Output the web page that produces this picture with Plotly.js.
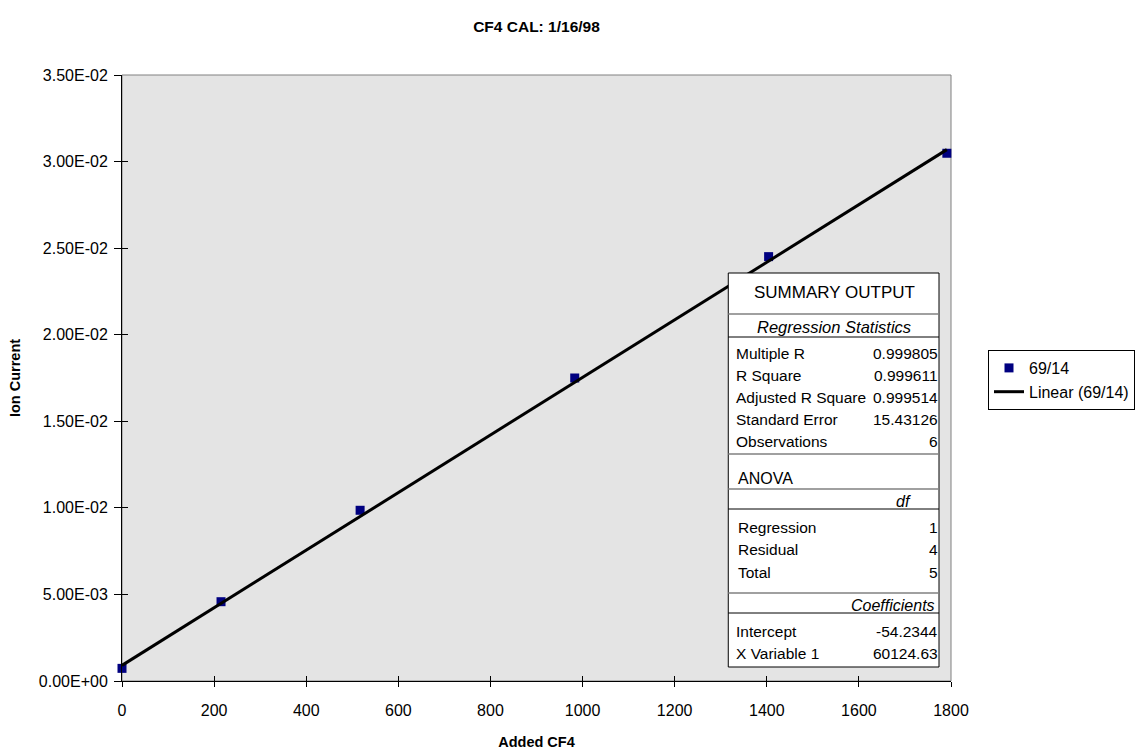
<!DOCTYPE html>
<html>
<head>
<meta charset="utf-8">
<script src="https://cdn.plot.ly/plotly-3.0.1.min.js"></script>
<style>
  html, body { margin: 0; padding: 0; background: #ffffff; }
  #chart { width: 1146px; height: 752px; }
</style>
</head>
<body>
<div id="chart"></div>
<script>
// CF4 calibration: ion current (69/14) vs. added CF4
const addedCF4 = [0, 215, 517, 983, 1404, 1791];
const ionCurrent = [0.00073, 0.00458, 0.00986, 0.01750, 0.02451, 0.03048];

const yTickVals = [0, 0.005, 0.010, 0.015, 0.020, 0.025, 0.030, 0.035];
const yTickText = ['0.00E+00', '5.00E-03', '1.00E-02', '1.50E-02', '2.00E-02', '2.50E-02', '3.00E-02', '3.50E-02'];
const xTickVals = [0, 200, 400, 600, 800, 1000, 1200, 1400, 1600, 1800];

// Regression summary (Added CF4 regressed on ion current)
const regStatLabels = ['Multiple R', 'R Square', 'Adjusted R Square', 'Standard Error', 'Observations'];
const regStatValues = ['0.999805', '0.999611', '0.999514', '15.43126', '6'];
const anovaLabels = ['Regression', 'Residual', 'Total'];
const anovaDf = ['1', '4', '5'];
const coefLabels = ['Intercept', 'X Variable 1'];
const coefValues = [-54.2344, 60124.63];

// Linear trend from the stated coefficients: x = b0 + b1*y  ->  y = (x - b0) / b1
const trendX = [0, Math.max(...addedCF4)];
const trendY = trendX.map(x => (x - coefValues[0]) / coefValues[1]);

// plot-area geometry in pixels
const M = { l: 122, r: 194, t: 75, b: 71 };
const W = 1146, H = 752;
const PW = W - M.l - M.r, PH = H - M.t - M.b;
const px = v => (v - M.l) / PW;
const py = v => (H - M.b - v) / PH;

const FONT = 'Liberation Sans, Arial, sans-serif';

const traces = [
  {
    x: addedCF4, y: ionCurrent, name: '69/14', type: 'scatter', mode: 'markers',
    marker: { symbol: 'square', size: 9, color: '#000080' },
    cliponaxis: false, legendgroup: 'a'
  },
  {
    x: trendX, y: trendY, name: 'Linear (69/14)', type: 'scatter', mode: 'lines',
    line: { color: '#000000', width: 3 }, legendgroup: 'b'
  },
  {
    // carrier for the inward half of the cross tick marks
    x: addedCF4, y: ionCurrent, xaxis: 'x2', yaxis: 'y2', mode: 'markers',
    marker: { opacity: 0 }, showlegend: false, hoverinfo: 'skip'
  }
];

// summary table drawn as shapes + annotations
const TBL = { x0: 729, x1: 940, y0: 273, y1: 667 };
const shapes = [
  { type: 'rect', xref: 'paper', yref: 'paper', x0: 0, x1: 1, y0: 0, y1: 1,
    line: { color: '#808080', width: 1 }, layer: 'below' },
  { type: 'rect', xref: 'paper', yref: 'paper', x0: px(TBL.x0), x1: px(TBL.x1),
    y0: py(TBL.y1), y1: py(TBL.y0), fillcolor: '#ffffff',
    line: { color: '#000000', width: 1 }, layer: 'above' }
];
const hline = (y, color) => shapes.push({
  type: 'line', xref: 'paper', yref: 'paper', x0: px(TBL.x0), x1: px(color === '#000000' ? TBL.x1 : 939),
  y0: py(y), y1: py(y), line: { color: color, width: color === '#000000' ? 1 : 1.5 }, layer: 'above'
});
[314, 454, 489, 593].forEach(y => hline(y, '#808080'));
[337, 509, 613].forEach(y => hline(y, '#000000'));

const annotations = [];
const txt = (text, x, y, anchor, opts = {}) => annotations.push(Object.assign({
  text: text, xref: 'paper', yref: 'paper', x: px(x), y: py(y), xanchor: anchor, yanchor: 'middle',
  showarrow: false, font: { family: FONT, size: 15.5, color: '#000000' }
}, opts));

txt('SUMMARY OUTPUT', 835, 292, 'center', { font: { family: FONT, size: 17, color: '#000000' } });
txt('<i>Regression Statistics</i>', 835, 327, 'center', { font: { family: FONT, size: 16.5, color: '#000000' } });
regStatLabels.forEach((t, i) => {
  const y = 353 + i * 22;
  txt(t, 735, y, 'left');
  txt(regStatValues[i], 941, y, 'right');
});
txt('ANOVA', 737, 478, 'left', { font: { family: FONT, size: 16, color: '#000000' } });
txt('<i>df</i>', 914, 501, 'right', { font: { family: FONT, size: 16, color: '#000000' } });
anovaLabels.forEach((t, i) => {
  const y = 527 + i * 22.5;
  txt(t, 737, y, 'left');
  txt(anovaDf[i], 941, y, 'right');
});
txt('<i>Coefficients</i>', 938, 605, 'right', { font: { family: FONT, size: 16, color: '#000000' } });
coefLabels.forEach((t, i) => {
  const y = 631 + i * 22;
  txt(t, 735, y, 'left');
  txt(String(coefValues[i]), 941, y, 'right');
});

const layout = {
  width: W, height: H,
  margin: M,
  paper_bgcolor: '#ffffff',
  plot_bgcolor: '#e4e4e4',
  font: { family: FONT, size: 15, color: '#000000' },
  title: { text: '<b>CF4 CAL: 1/16/98</b>', xref: 'paper', x: px(537), xanchor: 'center',
    yref: 'container', y: 1 - 27 / H, yanchor: 'middle',
    font: { family: FONT, size: 15.5, color: '#000000' } },
  showlegend: true,
  legend: {
    x: px(988), y: py(350), xanchor: 'left', yanchor: 'top',
    bgcolor: '#ffffff', bordercolor: '#000000', borderwidth: 1,
    font: { family: FONT, size: 16, color: '#000000' },
    tracegroupgap: 0, itemwidth: 30
  },
  xaxis: {
    range: [0, 1800], tickvals: xTickVals, ticks: 'outside', ticklen: 5, tickcolor: '#000000',
    showline: true, linecolor: '#000000', linewidth: 1, showgrid: false, zeroline: false,
    tickfont: { family: FONT, size: 16 }, ticklabelstandoff: 10,
    title: { text: '<b>Added CF4</b>', font: { family: FONT, size: 14.5 }, standoff: 18 }
  },
  yaxis: {
    range: [0, 0.035], tickvals: yTickVals, ticktext: yTickText, ticks: 'outside', ticklen: 7,
    tickcolor: '#000000', showline: true, linecolor: '#000000', linewidth: 1,
    showgrid: false, zeroline: false,
    tickfont: { family: FONT, size: 16 }, ticklabelstandoff: 3,
    title: { text: '<b>Ion Current</b>', font: { family: FONT, size: 14.5 }, standoff: 14 }
  },
  xaxis2: {
    overlaying: 'x', matches: 'x', range: [0, 1800], tickvals: xTickVals, ticks: 'inside', ticklen: 5,
    tickcolor: '#000000', showticklabels: false, showline: false, showgrid: false, zeroline: false
  },
  yaxis2: {
    overlaying: 'y', matches: 'y', range: [0, 0.035], tickvals: yTickVals, ticks: 'inside', ticklen: 6,
    tickcolor: '#000000', showticklabels: false, showline: false, showgrid: false, zeroline: false
  },
  shapes: shapes,
  annotations: annotations
};

Plotly.newPlot('chart', traces, layout, { displayModeBar: false, staticPlot: true });
</script>
</body>
</html>
